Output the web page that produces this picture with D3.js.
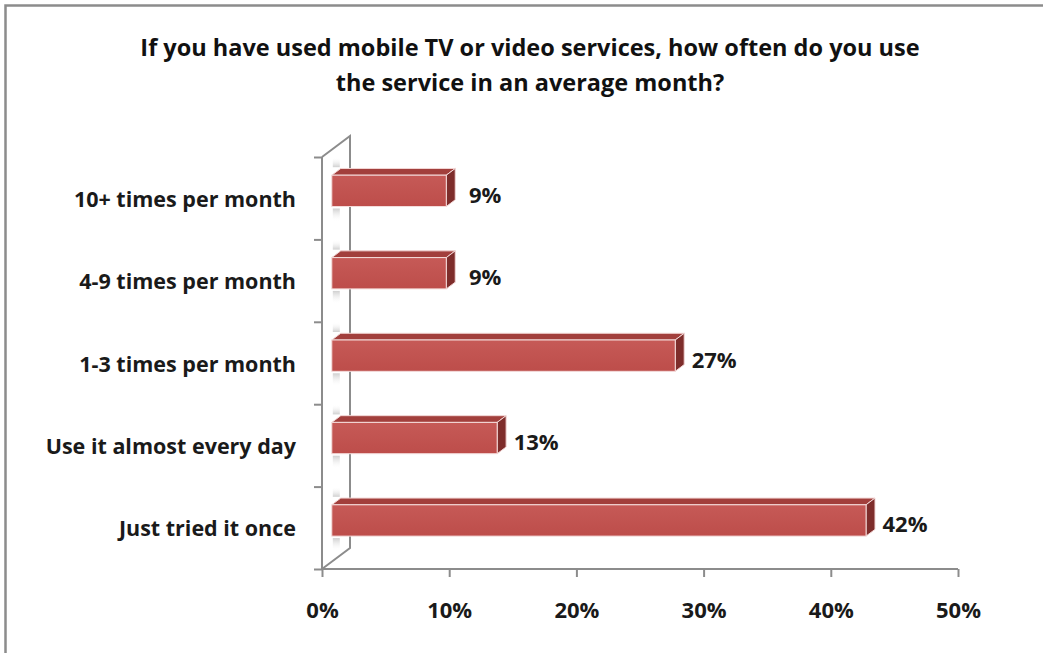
<!DOCTYPE html>
<html>
<head>
<meta charset="utf-8">
<script src="https://cdn.jsdelivr.net/npm/d3@7"></script>
<style>
  html, body { margin: 0; padding: 0; background: #fff; }
  svg { display: block; }
  text { font-family: "Open Sans", Lato, sans-serif; font-weight: bold; }
</style>
</head>
<body>
<svg id="chart" width="1043" height="653"></svg>
<script>
// Survey answers, listed top to bottom
const categories = [
  "10+ times per month",
  "4-9 times per month",
  "1-3 times per month",
  "Use it almost every day",
  "Just tried it once"
];
// Share of respondents for each answer
const shares = [0.09, 0.09, 0.27, 0.13, 0.42];
// Value axis ticks
const tickValues = [0, 0.1, 0.2, 0.3, 0.4, 0.5];
const titleLines = [
  "If you have used mobile TV or video services, how often do you use",
  "the service in an average month?"
];

const svg = d3.select("#chart");
const W = 1043, H = 653;

// outer frame
svg.append("rect")
  .attr("x", 5.5).attr("y", 5.5)
  .attr("width", W + 10).attr("height", H + 10)
  .attr("fill", "#fff").attr("stroke", "#8c8c8c").attr("stroke-width", 2.5);

// plot area on the front plane
const x0 = 322, x1 = 958, yTop = 157, yBot = 569;
const x = d3.scaleLinear().domain([0, 0.5]).range([x0, x1]);
const y = d3.scaleBand().domain(categories).range([yTop, yBot])
  .paddingInner(0.62).paddingOuter(0.31);
const yEdge = d3.scaleLinear().domain([0, categories.length]).range([yTop, yBot]);

// depth projection of the 3-D box
const depthX = 28, depthY = -21;
const proj = (px, py, z) => [px + z * depthX, py + z * depthY];
const barZ0 = 0.35, barZ1 = 0.67;

const defs = svg.append("defs");
const wallShade = defs.append("linearGradient").attr("id", "wallShade")
  .attr("x1", 0).attr("y1", 0).attr("x2", 0).attr("y2", 1);
wallShade.append("stop").attr("offset", "0%").attr("stop-color", "#fff").attr("stop-opacity", 0);
wallShade.append("stop").attr("offset", "100%").attr("stop-color", "#a8a8a8").attr("stop-opacity", 0.55);
const wallShadeDown = defs.append("linearGradient").attr("id", "wallShadeDown")
  .attr("x1", 0).attr("y1", 0).attr("x2", 0).attr("y2", 1);
wallShadeDown.append("stop").attr("offset", "0%").attr("stop-color", "#a8a8a8").attr("stop-opacity", 0.55);
wallShadeDown.append("stop").attr("offset", "100%").attr("stop-color", "#fff").attr("stop-opacity", 0);
const frontFill = defs.append("linearGradient").attr("id", "frontFill")
  .attr("x1", 0).attr("y1", 0).attr("x2", 0).attr("y2", 1);
frontFill.append("stop").attr("offset", "0%").attr("stop-color", "#c65a57");
frontFill.append("stop").attr("offset", "100%").attr("stop-color", "#bd4d4a");

const axisColor = "#8c8c8c";
const wall = svg.append("g");

// side wall outline
const wallPts = [
  proj(x0, yTop, 0), proj(x0, yTop, 1), proj(x0, yBot, 1), proj(x0, yBot, 0)
];
wall.append("path")
  .attr("d", d3.line()(wallPts))
  .attr("fill", "none").attr("stroke", axisColor).attr("stroke-width", 2);

// soft shading on the wall where each bar meets it
categories.forEach((c, i) => {
  const [wx, wy] = proj(x0, y(c), barZ0);
  wall.append("rect")
    .attr("x", wx + 1).attr("y", wy - 18).attr("width", 7).attr("height", 10)
    .attr("fill", "url(#wallShade)");
  wall.append("rect")
    .attr("x", wx + 1).attr("y", wy + y.bandwidth() + 2).attr("width", 7).attr("height", 13)
    .attr("fill", "url(#wallShadeDown)");
});

// category axis on the front edge
const leftAxis = svg.append("g").attr("transform", `translate(${x0},0)`)
  .call(d3.axisLeft(yEdge).tickValues(d3.range(categories.length + 1))
    .tickSize(8).tickFormat(""));
leftAxis.select(".domain").remove();
leftAxis.selectAll("line").attr("stroke", axisColor).attr("stroke-width", 2);
svg.append("line")
  .attr("x1", x0).attr("x2", x0).attr("y1", yTop).attr("y2", yBot)
  .attr("stroke", axisColor).attr("stroke-width", 2);

// value axis along the floor front edge
const bottomAxis = svg.append("g").attr("transform", `translate(0,${yBot})`)
  .call(d3.axisBottom(x).tickValues(tickValues).tickSize(8).tickPadding(25)
    .tickFormat(d3.format(".0%")));
bottomAxis.select(".domain").attr("stroke", axisColor).attr("stroke-width", 2)
  .attr("d", `M${x0},0H${x1}`);
bottomAxis.selectAll("line").attr("stroke", axisColor).attr("stroke-width", 2);
bottomAxis.selectAll("text")
  .attr("fill", "#1a1a1a").style("font-size", "22px");

// 3-D bars
const bars = svg.append("g");
categories.forEach((c, i) => {
  const v = shares[i];
  const top = y(c), bot = y(c) + y.bandwidth();
  const xl = x(0), xr = x(v);
  const f = (px, py) => proj(px, py, barZ0);
  const b = (px, py) => proj(px, py, barZ1);
  const g = bars.append("g");
  // top face
  g.append("path")
    .attr("d", d3.line()([f(xl, top), b(xl, top), b(xr, top), f(xr, top)]) + "Z")
    .attr("fill", "#a23f3c").attr("stroke", "#f2d6d5").attr("stroke-width", 1);
  // end face
  g.append("path")
    .attr("d", d3.line()([f(xr, top), b(xr, top), b(xr, bot), f(xr, bot)]) + "Z")
    .attr("fill", "#7e2d2b").attr("stroke", "#f2d6d5").attr("stroke-width", 1);
  // front face
  const [fx, fy] = f(xl, top);
  const [fx2, fy2] = f(xr, bot);
  g.append("rect")
    .attr("x", fx).attr("y", fy).attr("width", fx2 - fx).attr("height", fy2 - fy)
    .attr("fill", "url(#frontFill)").attr("stroke", "#f4dcdb").attr("stroke-width", 1);

  // value label
  const [ex] = b(xr, top);
  const [, ey] = f(xr, (top + bot) / 2);
  svg.append("text")
    .attr("x", ex + 30).attr("y", ey + 3)
    .attr("text-anchor", "middle").attr("dominant-baseline", "central")
    .attr("fill", "#1a1a1a").style("font-size", "22px")
    .text(d3.format(".0%")(v));
});

// category labels
svg.append("g").selectAll("text").data(categories).join("text")
  .attr("x", 296).attr("y", d => y(d) + y.bandwidth() / 2)
  .attr("text-anchor", "end").attr("dominant-baseline", "central")
  .attr("fill", "#1a1a1a").style("font-size", "21.5px")
  .text(d => d);

// title
svg.append("g").selectAll("text").data(titleLines).join("text")
  .attr("x", 530).attr("y", (d, i) => 56 + i * 35)
  .attr("text-anchor", "middle")
  .attr("fill", "#111").style("font-size", "23.5px")
  .text(d => d);
</script>
</body>
</html>
